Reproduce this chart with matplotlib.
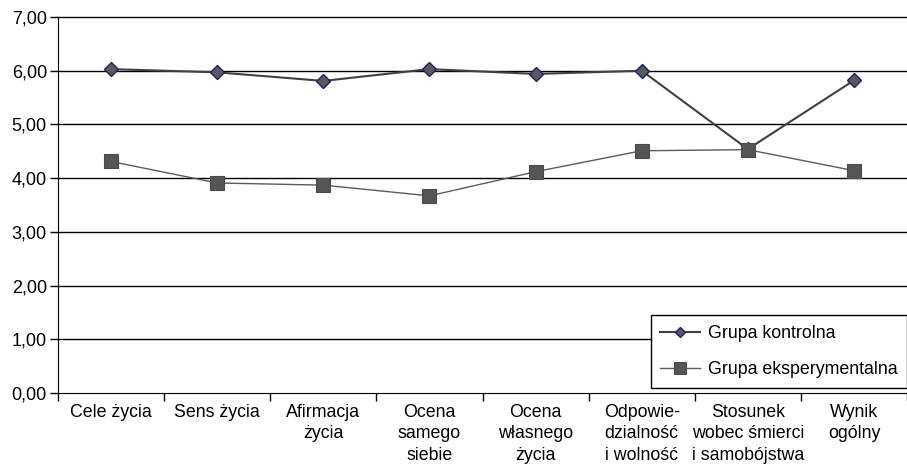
import numpy as np
import matplotlib.pyplot as plt

plt.rcParams['font.family'] = ['Liberation Sans', 'DejaVu Sans']

# data
categories = ['Cele życia', 'Sens życia', 'Afirmacja\nżycia', 'Ocena\nsamego\nsiebie',
              'Ocena\nwłasnego\nżycia', 'Odpowie-\ndzialność\ni wolność',
              'Stosunek\nwobec śmierci\ni samobójstwa', 'Wynik\nogólny']
kontrolna = [6.03, 5.97, 5.81, 6.03, 5.94, 6.00, 4.54, 5.82]
eksperymentalna = [4.31, 3.91, 3.87, 3.67, 4.12, 4.51, 4.53, 4.14]
yticks = [0, 1, 2, 3, 4, 5, 6, 7]

fig = plt.figure(figsize=(9.07, 4.71), dpi=100)
ax = fig.add_axes([0.064, 0.1656, 0.936, 0.7983])

x = np.arange(len(categories))

# horizontal grid
for v in yticks[1:]:
    ax.axhline(v, color='black', linewidth=1, clip_on=False, zorder=1)

ax.plot(x, kontrolna, color='#404040', linewidth=1.5, marker='D', markersize=7,
        markerfacecolor='#5a5a5a', markeredgecolor='#1c1c70', markeredgewidth=1,
        label='Grupa kontrolna', zorder=3)
ax.plot(x, eksperymentalna, color='#5a5a5a', linewidth=1, marker='s', markersize=10,
        markerfacecolor='#555555', markeredgecolor='#4a4a4a', markeredgewidth=0.8,
        label='Grupa eksperymentalna', zorder=3)

ax.set_xlim(-0.5, len(categories) - 0.5)
ax.set_ylim(0, 7)

ax.set_yticks(yticks)
ax.set_yticklabels([f'{v:.2f}'.replace('.', ',') for v in yticks], fontsize=13)
ax.tick_params(axis='y', length=6, width=1, color='black', pad=2)

ax.set_xticks(x)
ax.set_xticklabels(categories, fontsize=12.8, linespacing=1.33, va='top')
ax.set_xticks(np.arange(len(categories) + 1) - 0.5, minor=True)
ax.tick_params(axis='x', which='major', length=0, pad=8)
ax.tick_params(axis='x', which='minor', length=6, width=1, color='black')

for side in ['top', 'right']:
    ax.spines[side].set_visible(False)
ax.spines['left'].set_color('black')
ax.spines['bottom'].set_color('black')

leg = ax.legend(loc='lower right', bbox_to_anchor=(1.0, 0.013), fontsize=12.8,
                frameon=True, fancybox=False, framealpha=1, edgecolor='black',
                handlelength=2.2, handletextpad=0.45, borderpad=0.55, labelspacing=1.1,
                borderaxespad=0, markerscale=0.8)
leg.get_frame().set_linewidth(1)

plt.savefig('out.png', dpi=100)
